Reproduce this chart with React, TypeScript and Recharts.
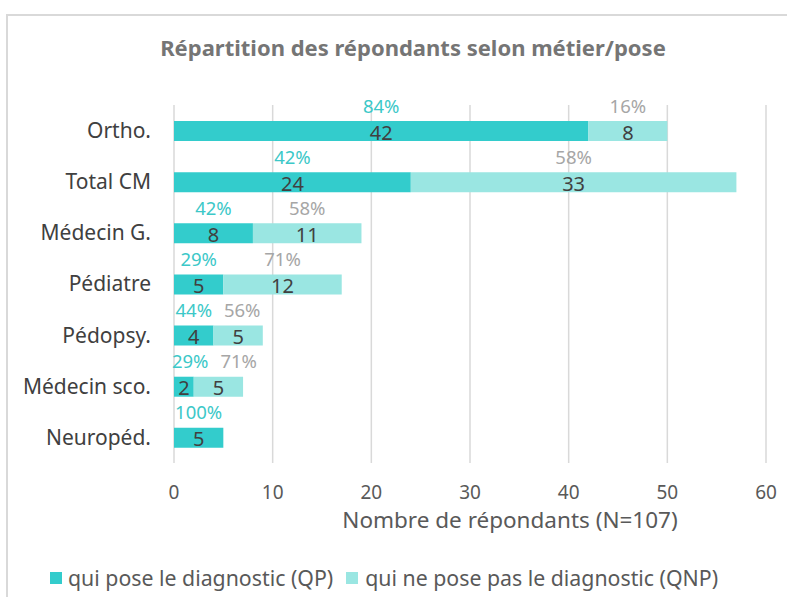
import React from "react";
import { BarChart, Bar, XAxis, YAxis, CartesianGrid, LabelList, Label } from "recharts";

const categories = ["Ortho.", "Total CM", "Médecin G.", "Pédiatre", "Pédopsy.", "Médecin sco.", "Neuropéd."];
const qpValues = [42, 24, 8, 5, 4, 2, 5];
const qnpValues = [8, 33, 11, 12, 5, 5, 0];
const qpPercent = [84, 42, 42, 29, 44, 29, 100];
const qnpPercent = [16, 58, 58, 71, 56, 71, 0];
const xTicks = [0, 10, 20, 30, 40, 50, 60];

const QP_COLOR = "#33CCCC";
const QNP_COLOR = "#9AE6E2";
const FONT = "'Noto Sans', 'Open Sans', sans-serif";
const PCT_SIZE = 18.5;

const data = categories.map((name, i) => ({
  name,
  qp: qpValues[i],
  qnp: qnpValues[i],
  qpPct: qpPercent[i],
  qnpPct: qnpPercent[i],
}));

// rough text width of "NN%" so neighbouring labels don't collide (like Excel does)
const pctWidth = (v: number) => (String(v).length * 0.57 + 0.83) * PCT_SIZE;

const qpPctCenter = (x: number, width: number, v: number) =>
  Math.max(x + width / 2, x + pctWidth(v) / 2 - 2);

const ValueLabel = (props: any) => {
  const { x, y, width, height, value } = props;
  if (!value) return null;
  return (
    <text x={x + width / 2} y={y + height / 2 + 1} textAnchor="middle" dominantBaseline="central"
      fill="#404040" fontSize={20} fontFamily={FONT}>
      {value}
    </text>
  );
};

const QpPctLabel = (props: any) => {
  const { x, y, width, value } = props;
  if (!value) return null;
  return (
    <text x={qpPctCenter(x, width, value)} y={y - 16} textAnchor="middle" dominantBaseline="central"
      fill="#3CC8C8" fontSize={PCT_SIZE} fontFamily={FONT}>
      {value}%
    </text>
  );
};

const QnpPctLabel = (props: any) => {
  const { x, y, width, value, index } = props;
  if (!value) return null;
  const d = data[index];
  const qpW = (width * d.qp) / d.qnp;
  const qpRight = qpPctCenter(x - qpW, qpW, d.qpPct) + pctWidth(d.qpPct) / 2;
  const cx = Math.max(x + width / 2, qpRight + 12 + pctWidth(value) / 2);
  return (
    <text x={cx} y={y - 16} textAnchor="middle" dominantBaseline="central"
      fill="#A6A6A6" fontSize={PCT_SIZE} fontFamily={FONT}>
      {value}%
    </text>
  );
};

const Legend2 = () => (
  <div style={{ position: "absolute", left: 50, top: 563, display: "flex", alignItems: "center",
    fontFamily: FONT, fontSize: 21.3, color: "#595959", whiteSpace: "nowrap" }}>
    <span style={{ width: 12, height: 12, background: QP_COLOR, display: "inline-block", marginRight: 6 }} />
    <span>qui pose le diagnostic (QP)</span>
    <span style={{ width: 12, height: 12, background: QNP_COLOR, display: "inline-block", marginLeft: 13, marginRight: 7 }} />
    <span>qui ne pose pas le diagnostic (QNP)</span>
  </div>
);

export default function App() {
  return (
    <div style={{ position: "absolute", left: 0, top: 0, width: 787, height: 597, background: "#fff", overflow: "hidden" }}>
      <div style={{ position: "absolute", left: 6, top: 14, width: 800, height: 600, border: "2px solid #D9D9D9" }} />
      <div style={{ position: "absolute", left: 0, top: 32, width: 826, textAlign: "center",
        fontFamily: FONT, fontWeight: 700, fontSize: 22, color: "#757575" }}>
        Répartition des répondants selon métier/pose
      </div>
      <div style={{ position: "absolute", left: 0, top: 0 }}>
        <BarChart width={787} height={597} data={data} layout="vertical"
          margin={{ top: 105, right: 21, bottom: 104, left: 0 }}>
          <CartesianGrid horizontal={false} stroke="#D9D9D9" strokeWidth={1.5} />
          <XAxis type="number" domain={[0, 60]} ticks={xTicks} axisLine={false} tickLine={false}
            height={30} tickSize={0} tickMargin={23} interval={0}
            tick={{ fill: "#595959", fontSize: 19, fontFamily: FONT }}>
            <Label value="Nombre de répondants (N=107)" position="bottom" offset={19} dx={40}
              style={{ fill: "#595959", fontSize: 22.5, fontFamily: FONT }} />
          </XAxis>
          <YAxis type="category" dataKey="name" width={174} axisLine={false} tickLine={false}
            tickSize={0} tickMargin={23} interval={0}
            tick={{ fill: "#404040", fontSize: 21, fontFamily: FONT }} />
          <Bar dataKey="qp" stackId="a" fill={QP_COLOR} barSize={20} isAnimationActive={false}>
            <LabelList dataKey="qp" content={ValueLabel} />
            <LabelList dataKey="qpPct" content={QpPctLabel} />
          </Bar>
          <Bar dataKey="qnp" stackId="a" fill={QNP_COLOR} barSize={20} isAnimationActive={false}>
            <LabelList dataKey="qnp" content={ValueLabel} />
            <LabelList dataKey="qnpPct" content={QnpPctLabel} />
          </Bar>
        </BarChart>
      </div>
      <Legend2 />
    </div>
  );
}
